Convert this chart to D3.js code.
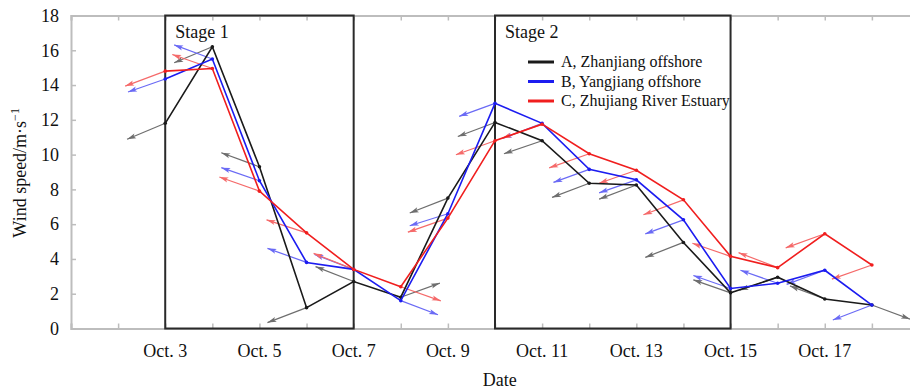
<!DOCTYPE html>
<html>
<head>
<meta charset="utf-8">
<script src="https://cdn.jsdelivr.net/npm/d3@7"></script>
<style>
  html, body { margin: 0; padding: 0; background: #fff; }
  text { font-family: 'Liberation Serif', 'Times New Roman', serif; fill: #111; }
</style>
</head>
<body>
<div id="chart-container"></div>
<script>
// days of October
const days = [3, 4, 5, 6, 7, 8, 9, 10, 11, 12, 13, 14, 15, 16, 17, 18];
const tickDays = [3, 5, 7, 9, 11, 13, 15, 17];
const yTicks = [0, 2, 4, 6, 8, 10, 12, 14, 16, 18];

const seriesNames = ['A, Zhanjiang offshore', 'B, Yangjiang offshore', 'C, Zhujiang River Estuary'];

// wind speed, m/s
const speedA = [11.8, 16.2, 9.3, 1.2, 2.7, 1.8, 7.5, 11.85, 10.8, 8.35, 8.25, 4.95, 2.05, 2.95, 1.7, 1.35];
const speedB = [14.35, 15.5, 8.5, 3.8, 3.4, 1.6, 6.6, 12.95, 11.8, 9.15, 8.55, 6.25, 2.3, 2.6, 3.35, 1.35];
const speedC = [14.8, 14.95, 7.9, 5.5, 3.4, 2.4, 6.35, 10.8, 11.75, 10.05, 9.1, 7.4, 4.15, 3.5, 5.45, 3.65];

// wind vector components (u in days, v in m/s on the chart)
const vecA = [[-0.81, -0.92], [-0.81, -0.92], [-0.81, 0.81], [-0.83, -0.86], [-0.81, 0.86], [0.83, 0.81], [-0.81, -0.86], [-0.79, -0.81],
  [-0.81, -0.75], [-0.79, -0.81], [-0.79, -0.81], [-0.81, -0.86], [-0.79, 0.75], [-0.81, -0.75], [-0.74, 0.75], [0.81, -0.81]];
const vecB = [[-0.79, -0.75], [-0.81, 0.81], [-0.81, 0.75], [-0.83, 0.81], [-0.83, 0.86], [0.79, -0.81], [-0.81, -0.69], [-0.76, -0.75],
  [-0.83, -0.86], [-0.76, -0.75], [-0.79, -0.75], [-0.81, -0.81], [-0.79, 0.75], [-0.79, 0.75], [-0.81, -0.81], [-0.83, -0.86]];
const vecC = [[-0.85, -0.86], [-0.85, 0.81], [-0.85, 0.81], [-0.85, 0.75], [-0.85, 0.92], [0.85, -0.81], [-0.85, -0.81], [-0.83, -0.81],
  [-0.85, -0.81], [-0.85, -0.81], [-0.79, -0.75], [-0.85, -0.86], [-0.81, 0.75], [-0.83, 0.86], [-0.83, -0.81], [-0.85, -0.81]];

// stage windows (days)
const stages = [{ label: 'Stage 1', from: 3, to: 7 }, { label: 'Stage 2', from: 10, to: 15 }];

const colors = ['#1a1a1a', '#1c1cf0', '#f01e1e'];
const arrowColors = ['#6e6e6e', '#6a6af5', '#f56a6a'];

const W = 910, H = 391;
const svg = d3.select('#chart-container')
  .append('svg')
  .attr('width', W)
  .attr('height', H);

const x = d3.scaleLinear().domain([1, 19]).range([71, 919]);
const y = d3.scaleLinear().domain([0, 18]).range([328.5, 15.5]);

const axisCol = '#bdbdbd';

// arrow markers
const defs = svg.append('defs');
arrowColors.forEach((c, i) => {
  defs.append('marker')
    .attr('id', 'head' + i)
    .attr('viewBox', '-10 -4 12 8')
    .attr('refX', 0).attr('refY', 0)
    .attr('markerWidth', 12).attr('markerHeight', 8)
    .attr('markerUnits', 'userSpaceOnUse')
    .attr('orient', 'auto')
    .append('path')
    .attr('d', 'M-9,-2.6 L0,0 L-9,2.6 L-7,0 Z')
    .attr('fill', c);
});

// axes frame (left, top, bottom)
const xAxisB = d3.axisBottom(x).tickValues(d3.range(1, 20)).tickSize(-5).tickFormat('');
const xAxisT = d3.axisTop(x).tickValues(d3.range(1, 20)).tickSize(-5).tickFormat('');
const yAxisL = d3.axisLeft(y).tickValues(yTicks).tickSize(-5).tickPadding(12).tickFormat(d3.format('d'));

const gB = svg.append('g').attr('transform', `translate(0,${y(0)})`).call(xAxisB);
const gT = svg.append('g').attr('transform', `translate(0,${y(18)})`).call(xAxisT);
const gL = svg.append('g').attr('transform', `translate(${x(1)},0)`).call(yAxisL);
[gB, gT, gL].forEach(g => {
  g.select('.domain').attr('stroke', axisCol).attr('stroke-width', 2);
  g.selectAll('.tick line').attr('stroke', axisCol).attr('stroke-width', 1.5);
});
gL.selectAll('.tick text').attr('font-size', 18).attr('fill', '#111')
  .style('font-family', "'Liberation Serif', serif");

// x tick labels
svg.append('g').selectAll('text')
  .data(tickDays)
  .enter()
  .append('text')
  .attr('x', d => x(d))
  .attr('y', 357)
  .attr('text-anchor', 'middle')
  .attr('font-size', 18)
  .text(d => 'Oct. ' + d);

// axis titles
svg.append('text')
  .attr('x', x(10.1))
  .attr('y', 386)
  .attr('text-anchor', 'middle')
  .attr('font-size', 18)
  .text('Date');

const yt = svg.append('text')
  .attr('transform', `translate(26,${y(8.95)}) rotate(-90)`)
  .attr('text-anchor', 'middle')
  .attr('font-size', 18);
yt.append('tspan').text('Wind speed/m·s');
yt.append('tspan').attr('font-size', 12).attr('dy', -7).text('−1');

// stage boxes
stages.forEach(s => {
  svg.append('rect')
    .attr('x', x(s.from))
    .attr('y', y(18))
    .attr('width', x(s.to) - x(s.from))
    .attr('height', y(0) - y(18))
    .attr('fill', 'none')
    .attr('stroke', '#2a2a2a')
    .attr('stroke-width', 2);
  svg.append('text')
    .attr('x', x(s.from) + 10)
    .attr('y', 38)
    .attr('font-size', 18)
    .text(s.label);
});

const speeds = [speedA, speedB, speedC];
const vecs = [vecA, vecB, vecC];

// wind vectors
vecs.forEach((vs, i) => {
  svg.append('g').selectAll('line')
    .data(days)
    .enter()
    .append('line')
    .attr('x1', (d, j) => x(d))
    .attr('y1', (d, j) => y(speeds[i][j]))
    .attr('x2', (d, j) => x(d + vs[j][0]))
    .attr('y2', (d, j) => y(speeds[i][j] + vs[j][1]))
    .attr('stroke', arrowColors[i])
    .attr('stroke-width', 1.2)
    .attr('marker-end', `url(#head${i})`);
});

// series lines
const line = d3.line().x(d => x(d[0])).y(d => y(d[1]));
speeds.forEach((s, i) => {
  const pts = days.map((d, j) => [d, s[j]]);
  svg.append('path')
    .datum(pts)
    .attr('d', line)
    .attr('fill', 'none')
    .attr('stroke', colors[i])
    .attr('stroke-width', 1.6);
  svg.append('g').selectAll('circle')
    .data(pts)
    .enter()
    .append('circle')
    .attr('cx', d => x(d[0]))
    .attr('cy', d => y(d[1]))
    .attr('r', 1.8)
    .attr('fill', colors[i]);
});

// legend
const lg = svg.append('g').attr('transform', `translate(${x(10.7)},62)`);
seriesNames.forEach((n, i) => {
  lg.append('line')
    .attr('x1', 0).attr('x2', 26)
    .attr('y1', i * 19.5).attr('y2', i * 19.5)
    .attr('stroke', colors[i])
    .attr('stroke-width', 3);
  lg.append('text')
    .attr('x', 33)
    .attr('y', i * 19.5 + 5)
    .attr('font-size', 16)
    .text(n);
});
</script>
</body>
</html>
